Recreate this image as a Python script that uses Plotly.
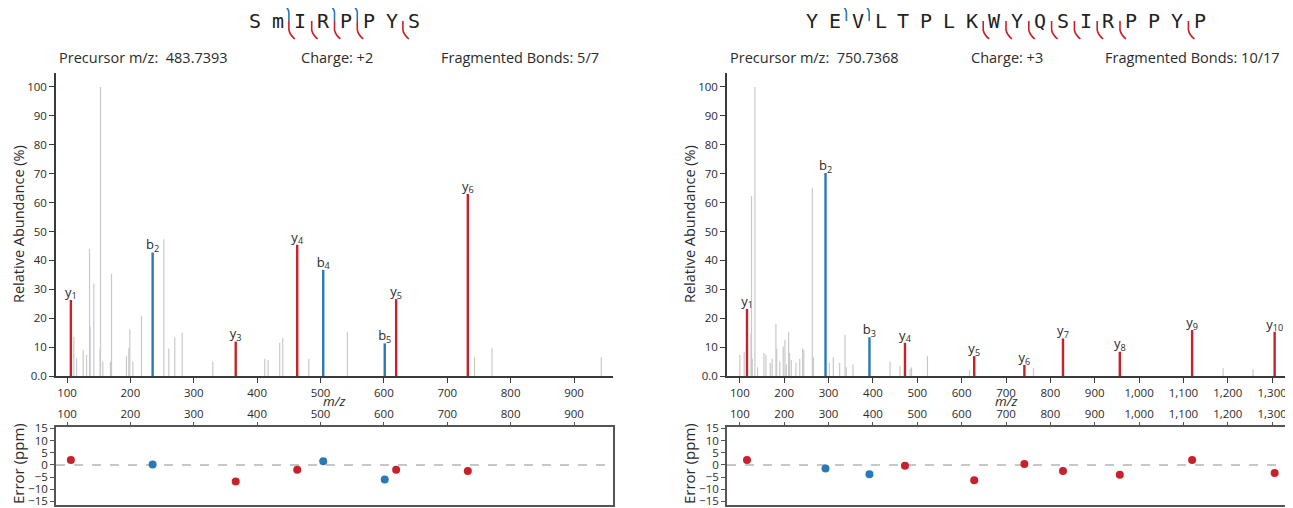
import plotly.graph_objects as go

W, H = 1293, 508
OFF_X, OFF_Y = 8, 8   # page body margin offset

# ---------------- DATA ----------------
left_sequence = ["S", "m", "I", "R", "P", "P", "Y", "S"]
left_b_bonds = [2, 4, 5]          # bond index after residue n (b ions)
left_y_bonds = [2, 3, 4, 5, 7]    # bond index after residue n (y ions)
left_precursor = "483.7393"
left_charge = "+2"
left_fragmented = "5/7"

left_ion_labels = ["y1", "b2", "y3", "y4", "b4", "b5", "y5", "y6"]
left_ion_mz = [106.05, 235.07, 366.17, 463.22, 504.26, 601.31, 619.32, 732.40]
left_ion_int = [26.3, 42.7, 11.9, 45.4, 36.7, 11.3, 26.6, 63.0]
left_ion_err = [2.0, 0.2, -6.8, -2.0, 1.5, -6.0, -2.0, -2.5]

left_gray_mz = [110.8, 115.0, 125.5, 130.8, 135.5, 136.5, 142.3, 152.2, 152.8, 156.5,
                168.6, 170.2, 193.8, 197.5, 199.0, 203.8, 217.5, 252.7, 260.6, 270.0,
                281.7, 330.0, 412.0, 417.3, 435.6, 440.4, 481.4, 542.4, 743.0, 770.6, 943.0]
left_gray_int = [13.6, 6.1, 9.0, 7.3, 44.0, 17.0, 32.0, 9.5, 100.0, 5.0,
                 5.0, 35.3, 6.9, 9.6, 16.3, 5.0, 20.9, 47.3, 9.5, 13.3,
                 15.0, 5.0, 6.0, 5.5, 11.5, 13.2, 6.0, 15.1, 6.5, 9.6, 6.5]

right_sequence = ["Y", "E", "V", "L", "T", "P", "L", "K", "W", "Y", "Q", "S", "I", "R", "P", "P", "Y", "P"]
right_b_bonds = [2, 3]
right_y_bonds = [8, 9, 10, 11, 12, 13, 14, 17]
right_precursor = "750.7368"
right_charge = "+3"
right_fragmented = "10/17"

right_ion_labels = ["y1", "b2", "b3", "y4", "y5", "y6", "y7", "y8", "y9", "y10"]
right_ion_mz = [116.07, 293.11, 392.18, 472.25, 628.35, 741.44, 828.47, 956.53, 1119.59, 1305.67]
right_ion_int = [23.2, 70.2, 13.4, 11.5, 6.9, 3.8, 13.0, 8.4, 15.9, 15.3]
right_ion_err = [2.0, -1.5, -3.8, -0.3, -6.3, 0.4, -2.5, -4.0, 2.0, -3.3]

right_gray_mz = [100.0, 109.8, 125.0, 126.3, 128.0, 133.9, 140.0, 154.2, 158.7, 168.5,
                 172.9, 181.3, 183.0, 190.0, 197.8, 201.6, 205.0, 209.9, 212.0, 216.0,
                 226.4, 235.0, 241.5, 244.2, 263.3, 266.0, 301.6, 310.7, 325.0, 337.0,
                 340.0, 355.0, 438.6, 461.0, 483.7, 487.0, 522.9, 617.6, 762.0, 1189.4, 1257.0]
right_gray_int = [7.3, 8.4, 14.7, 62.3, 6.0, 100.0, 3.0, 8.0, 7.3, 4.5,
                  6.0, 18.0, 9.5, 5.0, 10.2, 12.5, 4.0, 15.1, 8.0, 5.5,
                  4.6, 6.0, 9.5, 9.0, 65.0, 6.5, 4.6, 6.5, 4.6, 14.2,
                  3.0, 4.0, 5.0, 3.5, 2.5, 3.0, 7.0, 2.0, 2.7, 2.7, 2.3]

spec_yticks = [0, 10, 20, 30, 40, 50, 60, 70, 80, 90, 100]
spec_yticktext = ["0.0", "10", "20", "30", "40", "50", "60", "70", "80", "90", "100"]
err_yticks = [15, 10, 5, 0, -5, -10, -15]
left_xticks = [100, 200, 300, 400, 500, 600, 700, 800, 900]
right_xticks = [100, 200, 300, 400, 500, 600, 700, 800, 900, 1000, 1100, 1200, 1300]

# ---------------- STYLE ----------------
RED = "#c9212b"
BLUE = "#2a78b8"
GRAY = "#c9c9c9"
TXT = "#2b2b2b"
FONT = "Open Sans"
MONO = "DejaVu Sans Mono"

def px(p):
    return (p - OFF_X) / W

def py(p):
    return 1 - (p - OFF_Y) / H

panels = [
    dict(seq=left_sequence, bb=left_b_bonds, yb=left_y_bonds, prec=left_precursor,
         charge=left_charge, frag=left_fragmented, labels=left_ion_labels,
         mz=left_ion_mz, inten=left_ion_int, err=left_ion_err,
         gmz=left_gray_mz, gint=left_gray_int, xticks=left_xticks,
         x0=56, x1=613, xr=[82.6, 961.5], info=(57, 337, 601)),
    dict(seq=right_sequence, bb=right_b_bonds, yb=right_y_bonds, prec=right_precursor,
         charge=right_charge, frag=right_fragmented, labels=right_ion_labels,
         mz=right_ion_mz, inten=right_ion_int, err=right_ion_err,
         gmz=right_gray_mz, gint=right_gray_int, xticks=right_xticks,
         x0=727, x1=1285, xr=[71, 1329], info=(728, 1007, 1282)),
]

SPEC_TOP, SPEC_BOT = 72.5, 376
ERR_TOP, ERR_BOT = 427, 505

fig = go.Figure()
annotations = []
shapes = []
layout_axes = {}

def sub_label(s):
    return s[0] + "<sub>" + s[1:] + "</sub>"

for i, p in enumerate(panels):
    n_spec = 2 * i + 1
    n_err = 2 * i + 2
    xs = "x" if n_spec == 1 else f"x{n_spec}"
    ys = "y" if n_spec == 1 else f"y{n_spec}"
    xe = f"x{n_err}"
    ye = f"y{n_err}"

    # gray peaks
    gx, gy = [], []
    for m, v in zip(p["gmz"], p["gint"]):
        gx += [m, m, None]
        gy += [0, v, None]
    fig.add_trace(go.Scatter(x=gx, y=gy, mode="lines", line=dict(color=GRAY, width=1.2),
                             xaxis=xs, yaxis=ys, hoverinfo="skip"))
    # ion peaks
    for kind, col in (("b", BLUE), ("y", RED)):
        ix, iy = [], []
        for lab, m, v in zip(p["labels"], p["mz"], p["inten"]):
            if lab[0] == kind:
                ix += [m, m, None]
                iy += [0, v, None]
        fig.add_trace(go.Scatter(x=ix, y=iy, mode="lines", line=dict(color=col, width=2.4),
                                 xaxis=xs, yaxis=ys, hoverinfo="skip"))
    # labels
    fig.add_trace(go.Scatter(x=p["mz"], y=p["inten"], mode="text",
                             text=[sub_label(l) for l in p["labels"]],
                             textposition="top center",
                             textfont=dict(family=FONT, size=13, color=TXT),
                             xaxis=xs, yaxis=ys, hoverinfo="skip"))
    # error points
    cols = [BLUE if l[0] == "b" else RED for l in p["labels"]]
    fig.add_trace(go.Scatter(x=p["mz"], y=p["err"], mode="markers",
                             marker=dict(color=cols, size=8),
                             xaxis=xe, yaxis=ye, hoverinfo="skip"))

    dom_x = [px(p["x0"]), px(p["x1"])]
    tickfont = dict(family=FONT, size=11.5, color=TXT)
    ticktext = [f"{v:,}" for v in p["xticks"]]
    common = dict(showgrid=False, zeroline=False, automargin=False)
    layout_axes["xaxis" if n_spec == 1 else f"xaxis{n_spec}"] = dict(
        domain=dom_x, range=p["xr"], anchor=ys, showline=True, linecolor="#3a3a3a",
        linewidth=1.5, ticks="outside", ticklen=5, tickcolor="#3a3a3a", tickwidth=1.2,
        tickvals=p["xticks"], ticktext=ticktext, tickfont=tickfont, **common)
    layout_axes["yaxis" if n_spec == 1 else f"yaxis{n_spec}"] = dict(
        domain=[py(SPEC_BOT), py(SPEC_TOP)], range=[0, 105], anchor=xs, showline=True,
        linecolor="#3a3a3a", linewidth=1.5, ticks="outside", ticklen=5, tickcolor="#3a3a3a",
        tickwidth=1.2, tickvals=spec_yticks, ticktext=spec_yticktext, tickfont=tickfont,
        **common)
    layout_axes[f"xaxis{n_err}"] = dict(
        domain=dom_x, range=p["xr"], anchor=ye, side="top", showline=True, mirror=True,
        linecolor="#555555", linewidth=1.5, ticks="outside", ticklen=3, tickcolor="#555555",
        tickwidth=1.2, tickvals=p["xticks"], ticktext=ticktext, tickfont=tickfont, **common)
    layout_axes[f"yaxis{n_err}"] = dict(
        domain=[py(ERR_BOT), py(ERR_TOP)], range=[-16.5, 15.6], anchor=xe, showline=True,
        mirror=True, linecolor="#555555", linewidth=1.5, ticks="outside", ticklen=4,
        tickcolor="#555555", tickwidth=1.2, tickvals=err_yticks, tickfont=tickfont, **common)

    # zero dashed line
    shapes.append(dict(type="line", xref=f"{xe} domain", yref=ye, x0=0, x1=1, y0=0, y1=0,
                       line=dict(color="#b5b5b5", width=1.5, dash="dash"), layer="below"))

    # axis titles
    cx = (p["x0"] + p["x1"]) / 2
    annotations.append(dict(text="<i>m/z</i>", x=px(cx), y=py(400.5), xref="paper", yref="paper",
                            showarrow=False, font=dict(family=FONT, size=13.5, color=TXT),
                            xanchor="center", yanchor="middle"))
    annotations.append(dict(text="Relative Abundance (%)", x=px(p["x0"] - 38), y=py(224),
                            xref="paper", yref="paper", showarrow=False, textangle=-90,
                            font=dict(family=FONT, size=14.5, color=TXT),
                            xanchor="center", yanchor="middle"))
    annotations.append(dict(text="Error (ppm)", x=px(p["x0"] - 38), y=py(464),
                            xref="paper", yref="paper", showarrow=False, textangle=-90,
                            font=dict(family=FONT, size=15, color=TXT),
                            xanchor="center", yanchor="middle"))

    # info line
    a, b, c = p["info"]
    info_font = dict(family=FONT, size=14.5, color=TXT)
    annotations.append(dict(text=f"Precursor m/z:  {p['prec']}", x=px(a), y=py(57),
                            xref="paper", yref="paper", showarrow=False, font=info_font,
                            xanchor="left", yanchor="middle"))
    annotations.append(dict(text=f"Charge: {p['charge']}", x=px(b), y=py(57),
                            xref="paper", yref="paper", showarrow=False, font=info_font,
                            xanchor="center", yanchor="middle"))
    annotations.append(dict(text=f"Fragmented Bonds: {p['frag']}", x=px(c), y=py(57),
                            xref="paper", yref="paper", showarrow=False, font=info_font,
                            xanchor="right", yanchor="middle"))

    # sequence
    sp = 22.8
    nres = len(p["seq"])
    start = cx - sp * (nres - 1) / 2
    for k, aa in enumerate(p["seq"]):
        annotations.append(dict(text=aa, x=px(start + k * sp), y=py(21), xref="paper",
                                yref="paper", showarrow=False,
                                font=dict(family=MONO, size=20, color="#222222"),
                                xanchor="center", yanchor="middle"))
    for bnd in p["bb"]:
        g = start + (bnd - 1) * sp + sp / 2
        path = (f"M {px(g-6)},{py(5)} Q {px(g-1)},{py(7)} {px(g)},{py(12)} L {px(g)},{py(21)}")
        shapes.append(dict(type="path", xref="paper", yref="paper", path=path,
                           line=dict(color=BLUE, width=1.6)))
    for bnd in p["yb"]:
        g = start + (bnd - 1) * sp + sp / 2
        path = (f"M {px(g)},{py(21)} L {px(g)},{py(30)} Q {px(g+1)},{py(35)} {px(g+6)},{py(39)}")
        shapes.append(dict(type="path", xref="paper", yref="paper", path=path,
                           line=dict(color=RED, width=1.6)))

fig.update_layout(
    template="none",
    width=W, height=508, margin=dict(l=0, r=0, t=0, b=0, pad=0),
    paper_bgcolor="white", plot_bgcolor="white", showlegend=False,
    annotations=annotations, shapes=shapes, **layout_axes,
)

fig.write_html("out.html")
